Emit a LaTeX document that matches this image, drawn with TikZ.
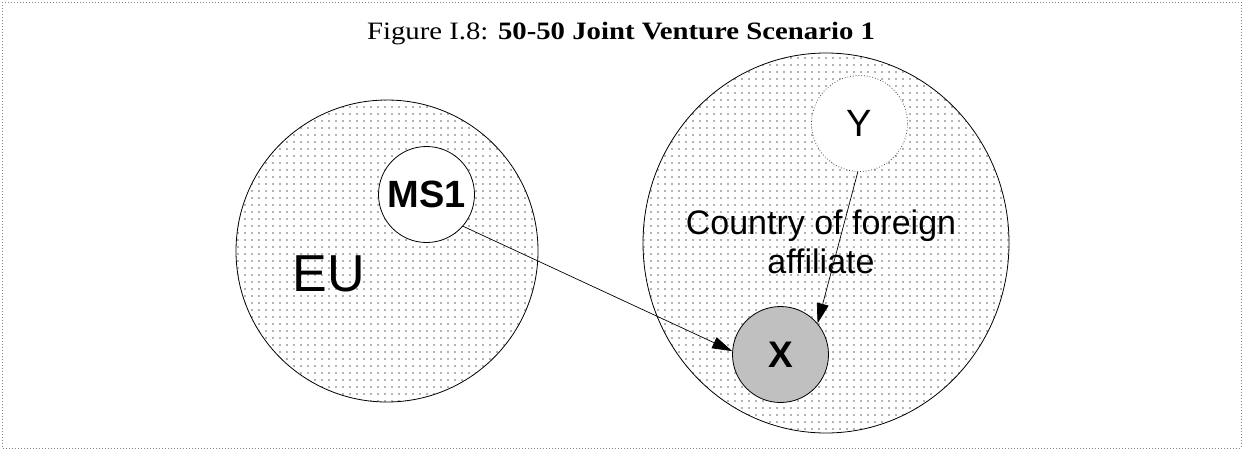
\documentclass[tikz,border=0pt]{standalone}
\usepackage{fontspec}
\setmainfont{Liberation Serif}
\newfontfamily\arialfont{Liberation Sans}
\newfontfamily\titlefont[FakeStretch=1.15]{Liberation Serif}
\usetikzlibrary{arrows.meta,patterns.meta,shapes.geometric}
\tikzset{
  dotted region/.style={draw=black, line width=0.8pt, inner sep=0pt,
    pattern={Dots[distance=7pt,radius=0.95pt]}, pattern color=black!60},
  entity/.style={circle, draw=black, line width=0.8pt, fill=white, inner sep=0pt,
    minimum size=96pt, font=\arialfont\fontsize{38}{42}\selectfont},
  link/.style={draw=black, line width=0.7pt, -{Triangle[length=20pt,width=12pt]}},
  big label/.style={font=\arialfont\fontsize{52}{60}\selectfont, inner sep=0pt},
  region label/.style={font=\arialfont\fontsize{34}{39}\selectfont, align=center, inner sep=0pt},
}
\begin{document}
\begin{tikzpicture}[x=1pt,y=-1pt]
\useasboundingbox (0,0) rectangle (1244,450);
\draw[gray, dotted, line width=1pt] (2,2) rectangle (1241,448);
% title
\node[anchor=base, inner sep=0pt, font=\titlefont\fontsize{25}{29}\selectfont] (title) at (621,39)
  {Figure I.8: \textbf{50-50 Joint Venture Scenario 1}};
% regions
\node[dotted region, circle, minimum size=302pt] (eu) at (387,251) {};
\node[dotted region, ellipse, minimum width=366pt, minimum height=380pt] (cfa) at (826,243) {};
\node[big label] (eulabel) at (329,273.5) {EU};
\node[region label] (cfalabel) at (821,242) {Country of foreign\\affiliate};
% entities
\node[entity, font=\arialfont\bfseries\fontsize{38}{42}\selectfont] (ms1) at (426.5,194.5) {MS1};
\node[entity, draw=black!70, dotted] (y) at (859.5,123.5) {Y};
\node[entity, fill={rgb,255:red,192;green,192;blue,192}, font=\arialfont\bfseries\fontsize{37}{42}\selectfont] (x) at (780.5,354.5) {X};
% connectors
\draw[link] (ms1.-41) -- (x.176);
\draw[link] (y.-92) -- (x.40);
\end{tikzpicture}
\end{document}
